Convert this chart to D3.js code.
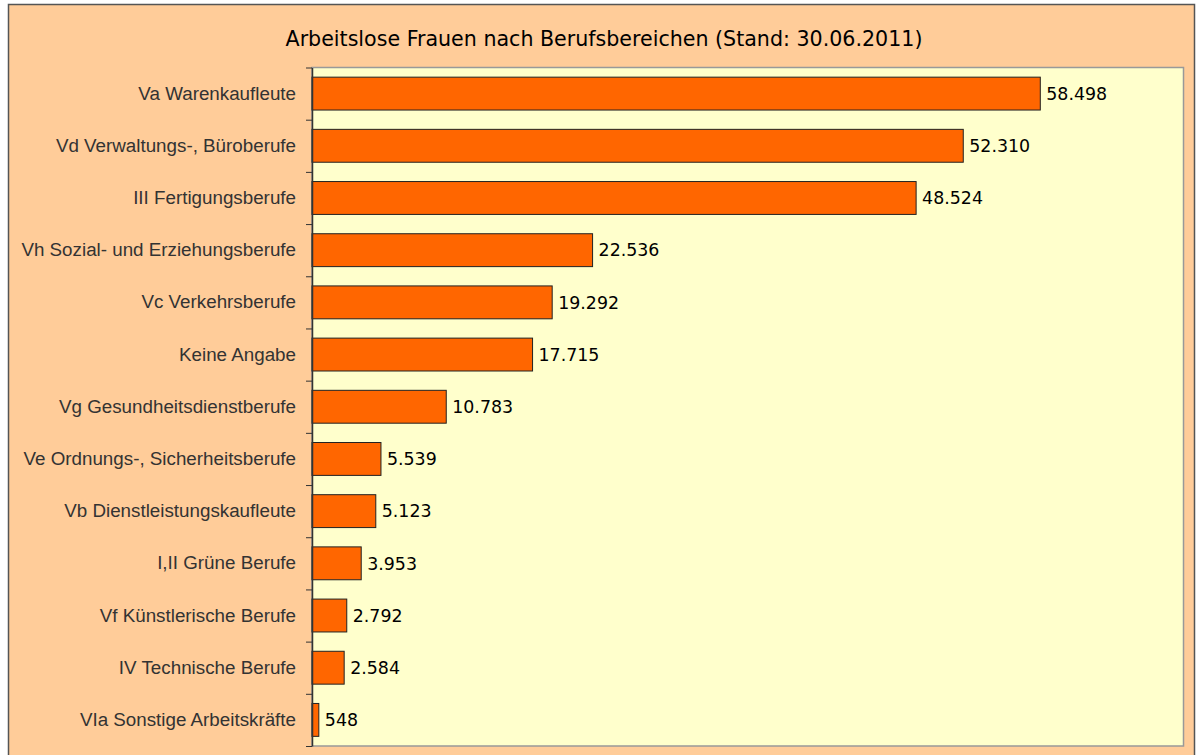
<!DOCTYPE html>
<html>
<head>
<meta charset="utf-8">
<script src="https://cdn.jsdelivr.net/npm/d3@7"></script>
<style>
  body { margin: 0; background: #fff; }
  svg { display: block; font-family: "DejaVu Sans", Verdana, sans-serif; }
</style>
</head>
<body>
<svg width="1200" height="755"></svg>
<script>
// Data
const categories = [
  "Va Warenkaufleute",
  "Vd Verwaltungs-, Büroberufe",
  "III Fertigungsberufe",
  "Vh Sozial- und Erziehungsberufe",
  "Vc Verkehrsberufe",
  "Keine Angabe",
  "Vg Gesundheitsdienstberufe",
  "Ve Ordnungs-, Sicherheitsberufe",
  "Vb Dienstleistungskaufleute",
  "I,II Grüne Berufe",
  "Vf Künstlerische Berufe",
  "IV Technische Berufe",
  "VIa Sonstige Arbeitskräfte"
];
const values = [58498, 52310, 48524, 22536, 19292, 17715, 10783, 5539, 5123, 3953, 2792, 2584, 548];
const title = "Arbeitslose Frauen nach Berufsbereichen (Stand: 30.06.2011)";

const svg = d3.select("svg");
const plotLeft = 312, plotTop = 67.5, plotRight = 1183.5, plotBottom = 746;

// outer chart area
svg.append("rect")
  .attr("x", 8.5).attr("y", 4.5)
  .attr("width", 1186).attr("height", 770)
  .attr("fill", "#FFCC99")
  .attr("stroke", "#555").attr("stroke-width", 1.5);

svg.append("text")
  .attr("x", 604).attr("y", 46)
  .attr("text-anchor", "middle")
  .attr("font-size", 20.6)
  .attr("fill", "#000")
  .text(title);

// plot area
svg.append("rect")
  .attr("x", plotLeft).attr("y", plotTop)
  .attr("width", plotRight - plotLeft).attr("height", plotBottom - plotTop)
  .attr("fill", "#FFFFCC")
  .attr("stroke", "#999").attr("stroke-width", 1.5);

const x = d3.scaleLinear().domain([0, 70000]).range([plotLeft, plotRight]);
const y = d3.scaleBand().domain(categories).range([plotTop, plotBottom]).paddingInner(0.37).paddingOuter(0.185);

// bars
svg.selectAll("rect.bar")
  .data(values)
  .enter()
  .append("rect")
  .attr("class", "bar")
  .attr("x", x(0))
  .attr("y", (d, i) => y(categories[i]))
  .attr("width", d => x(d) - x(0))
  .attr("height", y.bandwidth())
  .attr("fill", "#FF6600")
  .attr("stroke", "#222")
  .attr("stroke-width", 1);

// value labels
const fmt = d3.formatLocale({ decimal: ",", thousands: ".", grouping: [3], currency: ["", "€"] }).format(",d");
svg.selectAll("text.val")
  .data(values)
  .enter()
  .append("text")
  .attr("class", "val")
  .attr("x", d => x(d) + 6)
  .attr("y", (d, i) => y(categories[i]) + y.bandwidth() / 2)
  .attr("dy", "0.36em")
  .attr("font-size", 17.4)
  .attr("fill", "#000")
  .text(d => fmt(d));

// category axis: ticks between categories
const tickScale = d3.scaleLinear().domain([0, categories.length]).range([plotTop, plotBottom]);
const tickAxis = d3.axisLeft(tickScale).ticks(categories.length).tickSize(6).tickSizeOuter(0).tickFormat("");
svg.append("g")
  .attr("transform", `translate(${plotLeft},0)`)
  .call(tickAxis)
  .call(g => g.selectAll("line").attr("stroke", "#333"))
  .call(g => g.select(".domain").attr("stroke", "#333").attr("stroke-width", 1.5));

// category labels
const labelAxis = d3.axisLeft(y).tickSize(0).tickPadding(16);
svg.append("g")
  .attr("transform", `translate(${plotLeft},0)`)
  .call(labelAxis)
  .call(g => g.select(".domain").remove())
  .call(g => g.selectAll("text")
    .attr("font-size", 18.8)
    .attr("font-family", null)
    .attr("fill", "#333"));
</script>
</body>
</html>
